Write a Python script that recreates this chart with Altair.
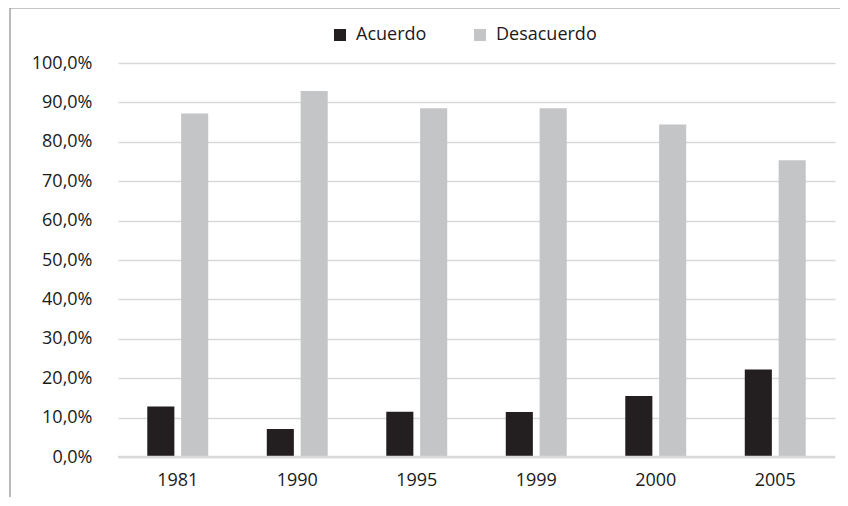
import altair as alt
import pandas as pd

years = ["1981", "1990", "1995", "1999", "2000", "2005"]
acuerdo = [0.128, 0.071, 0.115, 0.114, 0.155, 0.222]
desacuerdo = [0.872, 0.929, 0.885, 0.885, 0.844, 0.753]
series = ["Acuerdo", "Desacuerdo"]
y_ticks = [0.0, 0.1, 0.2, 0.3, 0.4, 0.5, 0.6, 0.7, 0.8, 0.9, 1.0]

rows = []
for i, y in enumerate(years):
    rows.append({"year": y, "serie": series[0], "value": acuerdo[i]})
    rows.append({"year": y, "serie": series[1], "value": desacuerdo[i]})
df = pd.DataFrame(rows)

FONT = "Open Sans"
FS = 18
TXT = "#1a1a1a"

frame = alt.Chart(pd.DataFrame({"a": [0]})).mark_rect(
    fill=None, stroke="#8c8c8c", strokeWidth=1.2).encode(
    x=alt.value(-108), x2=alt.value(900), y=alt.value(-55), y2=alt.value(600))

bars = alt.Chart(df).mark_bar().encode(
    x=alt.X("year:N", sort=years, title=None,
            scale=alt.Scale(paddingInner=0.49, paddingOuter=0.245),
            axis=alt.Axis(labelAngle=0, ticks=False, domain=False,
                          labelPadding=14, labelFont=FONT, labelFontSize=FS,
                          labelColor=TXT, labelOverlap=False)),
    xOffset=alt.XOffset("serie:N", sort=series,
                        scale=alt.Scale(paddingInner=0.2, paddingOuter=0)),
    y=alt.Y("value:Q", title=None,
            scale=alt.Scale(domain=[0, 1], nice=False),
            axis=alt.Axis(values=y_ticks, ticks=False, domain=False,
                          labelExpr="replace(format(datum.value, '.1%'), '.', ',')",
                          labelPadding=26, labelFont=FONT, labelFontSize=FS,
                          labelColor=TXT, gridColor="#d9d9d9",
                          gridWidth=1.5, labelOverlap=False)),
    color=alt.Color("serie:N", sort=series, title=None,
                    scale=alt.Scale(domain=series, range=["#231f20", "#c4c5c7"]),
                    legend=alt.Legend(orient="none", legendX=213, legendY=-37,
                                      direction="horizontal", symbolType="square",
                                      symbolSize=144, symbolStrokeWidth=0,
                                      labelFont=FONT, labelFontSize=FS,
                                      labelColor=TXT, labelOffset=7,
                                      columnPadding=44)),
)

zero = alt.Chart(pd.DataFrame({"a": [0]})).mark_rule(
    color="#d9d9d9", strokeWidth=2.5).encode(
    x=alt.value(0), x2=alt.value(717), y=alt.value(394))

chart = alt.layer(frame, bars, zero).properties(
    width=717, height=394,
    autosize=alt.AutoSizeParams(type="none"),
    padding={"left": 110, "top": 55, "right": 5, "bottom": 40},
).configure_view(stroke=None)

chart.save("out.html", embed_options={"renderer": "svg", "actions": False})
